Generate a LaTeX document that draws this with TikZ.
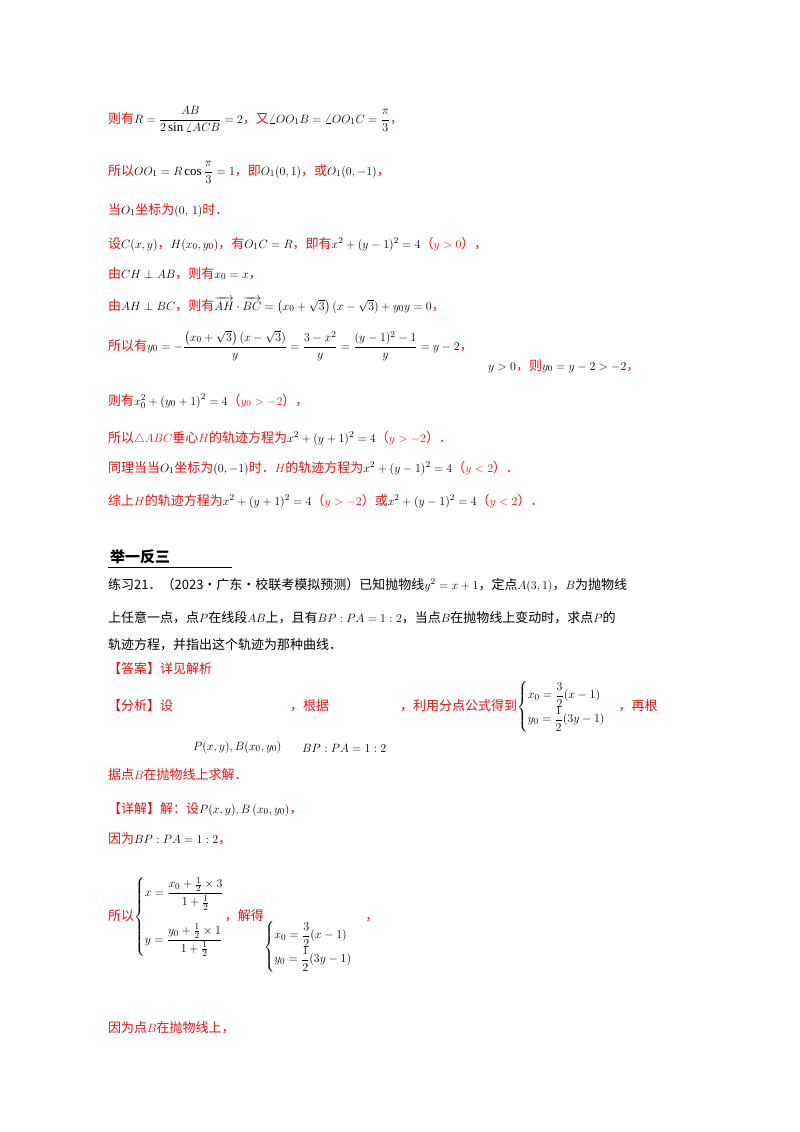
\documentclass[tikz,border=0pt]{standalone}
\usepackage{amsmath}
\usepackage{fontspec}
\setmainfont{Liberation Serif}
\newfontfamily\cjk{Noto Sans CJK SC}
\definecolor{rd}{RGB}{225,20,20}
\newcommand\zh[1]{{\cjk\color{rd}#1}}
\newcommand\zk[1]{{\cjk #1}}
\begin{document}
\begin{tikzpicture}[x=1pt,y=-1pt,
 ln/.style={anchor=base west,inner sep=0pt,font=\fontsize{13}{16}\selectfont}]
\useasboundingbox (0,0) rectangle (800,1132);
\node[ln] (l1) at (108,123) {\zh{则有}$R=\dfrac{AB}{2\sin\angle ACB}=2$\zh{，又}$\angle OO_1B=\angle OO_1C=\dfrac{\pi}{3}$\zh{，}};
\node[ln] (l2) at (108,175) {\zh{所以}$OO_1=R\cos\dfrac{\pi}{3}=1$\zh{，即}$O_1(0,1)$\zh{，或}$O_1(0,-1)$\zh{，}};
\node[ln] (l3) at (108,214) {\zh{当}$O_1$\zh{坐标为}$(0,\,1)$\zh{时．}};
\node[ln] (l4) at (108,248) {\zh{设}$C(x,y)$\zh{，}$H(x_0,y_0)$\zh{，有}$O_1C=R$\zh{，即有}$x^2+(y-1)^2=4$\zh{（}{\color{rd}$y>0$}\zh{），}};
\node[ln] (l5) at (108,278) {\zh{由}$CH\perp AB$\zh{，则有}$x_0=x$\zh{，}};
\node[ln] (l6) at (108,310) {\zh{由}$AH\perp BC$\zh{，则有}$\overrightarrow{AH}\cdot\overrightarrow{BC}=\left(x_0+\sqrt3\right)(x-\sqrt3)+y_0y=0$\zh{，}};
\node[ln] (l7) at (108,350) {\zh{所以有}$y_0=-\dfrac{\left(x_0+\sqrt3\right)(x-\sqrt3)}{y}=\dfrac{3-x^2}{y}=\dfrac{(y-1)^2-1}{y}=y-2$\zh{，}};
\node[ln] (l7b) at (488,370) {$y>0$\zh{，则}$y_0=y-2>-2$\zh{，}};
\node[ln] (l8) at (108,405) {\zh{则有}$x_0^2+\left(y_0+1\right)^2=4$\zh{（}{\color{rd}$y_0>-2$}\zh{），}};
\node[ln] (l9) at (108,442) {\zh{所以}{\color{rd}$\triangle ABC$}\zh{垂心}{\color{rd}$H$}\zh{的轨迹方程为}$x^2+(y+1)^2=4$\zh{（}{\color{rd}$y>-2$}\zh{）．}};
\node[ln] (l10) at (108,472) {\zh{同理当当}$O_1$\zh{坐标为}$(0,-1)$\zh{时．}{\color{rd}$H$}\zh{的轨迹方程为}$x^2+(y-1)^2=4$\zh{（}{\color{rd}$y<2$}\zh{）．}};
\node[ln] (l11) at (108,505) {\zh{综上}{\color{rd}$H$}\zh{的轨迹方程为}$x^2+(y+1)^2=4$\zh{（}{\color{rd}$y>-2$}\zh{）或}$x^2+(y-1)^2=4$\zh{（}{\color{rd}$y<2$}\zh{）．}};
\node[ln,font=\fontsize{15}{18}\selectfont\bfseries] (h) at (110,562) {\zk{举一反三}};
\draw[line width=1pt] (108,567) -- (232,567);
\node[ln] (l13) at (108,589) {\zk{练习21．（2023·广东·校联考模拟预测）已知抛物线}$y^2=x+1$\zk{，定点}$A(3,1)$\zk{，}$B$\zk{为抛物线}};
\node[ln] (l14) at (108,622) {\zk{上任意一点，点}$P$\zk{在线段}$AB$\zk{上，且有}$BP:PA=1:2$\zk{，当点}$B$\zk{在抛物线上变动时，求点}$P$\zk{的}};
\node[ln] (l15) at (108,649) {\zk{轨迹方程，并指出这个轨迹为那种曲线．}};
\node[ln] (l16) at (108,673) {\zh{【答案】详见解析}};
\node[ln] (l17) at (108,710) {\zh{【分析】设}};
\node[ln] (l17a) at (193,750) {$P(x,y),B(x_0,y_0)$};
\node[ln] (l17b) at (290,710) {\zh{，根据}};
\node[ln] (l17c) at (302,752) {$BP:PA=1:2$};
\node[ln] (l17d) at (400,710) {\zh{，利用分点公式得到}$\begin{cases}x_0=\dfrac32(x-1)\\[2pt] y_0=\dfrac12(3y-1)\end{cases}$\zh{，再根}};
\node[ln] (l18) at (108,779) {\zh{据点}{\color{rd}$B$}\zh{在抛物线上求解．}};
\node[ln] (l19) at (108,813) {\zh{【详解】解：设}$P(x,y),B\left(x_0,y_0\right)$\zh{，}};
\node[ln] (l20) at (108,843) {\zh{因为}$BP:PA=1:2$\zh{，}};
\node[ln] (l21) at (108,920) {\zh{所以}$\left\{\begin{aligned}&x=\dfrac{x_0+\frac12\times3}{1+\frac12}\\[10pt]&y=\dfrac{y_0+\frac12\times1}{1+\frac12}\end{aligned}\right.$\zh{，解得}\raisebox{-30pt}{$\begin{cases}x_0=\dfrac32(x-1)\\[2pt] y_0=\dfrac12(3y-1)\end{cases}$}\zh{，}};
\node[ln] (l22) at (108,1032) {\zh{因为点}{\color{rd}$B$}\zh{在抛物线上，}};
\end{tikzpicture}
\end{document}
